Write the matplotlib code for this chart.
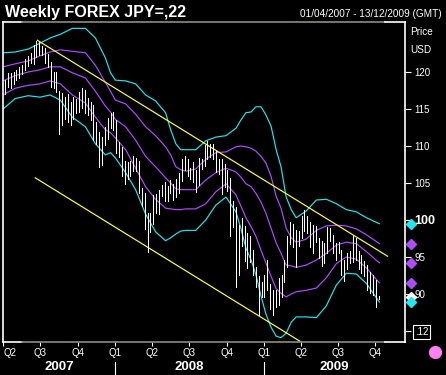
"""
周线 USD/JPY 走势图（布林带 + 趋势线）
"""
import pandas as pd
import matplotlib
matplotlib.use('Agg')
import matplotlib.pyplot as plt
import matplotlib.transforms as mtransforms
from matplotlib.lines import Line2D

plt.rcParams['font.family'] = ['Liberation Sans', 'DejaVu Sans']

# 时间范围
first_week = pd.Timestamp('2007-04-06')   # 第 0 根周线
range_start = pd.Timestamp('2007-04-01')
range_end = pd.Timestamp('2009-12-13')

# 周线最低/最高价
bar_low = [117.0, 118.0, 117.9, 118.4, 118.9, 119.2, 119.7, 120.3, 120.8, 121.2,
           121.1, 122.0, 122.3, 122.3, 121.2, 120.7, 118.0, 117.8, 117.3, 111.6,
           112.8, 113.7, 113.2, 112.8, 113.7, 114.4, 114.6, 115.1, 114.4, 114.2,
           113.5, 110.8, 110.3, 107.2, 107.4, 110.2, 110.9, 112.4, 112.2, 109.0,
           108.5, 105.9, 104.9, 105.6, 106.0, 106.6, 106.6, 103.7, 101.9, 98.8,
           95.7, 98.4, 99.5, 100.9, 100.8, 103.2, 102.6, 102.6, 103.7, 102.7,
           103.1, 103.7, 105.3, 106.8, 106.0, 105.6, 105.2, 103.8, 104.7, 106.9,
           107.3, 108.3, 108.5, 108.2, 106.5, 106.2, 103.5, 104.5, 103.9, 97.8,
           99.0, 90.9, 92.5, 96.5, 94.5, 93.5, 94.3, 92.5, 91.0, 87.2,
           89.6, 89.6, 90.5, 88.0, 87.1, 88.3, 88.5, 89.6, 91.6, 93.6,
           96.8, 96.4, 93.6, 96.5, 97.6, 98.5, 98.3, 96.4, 95.6, 97.0,
           94.9, 93.8, 94.2, 95.5, 97.1, 95.5, 94.6, 95.5, 92.5, 91.8,
           93.4, 94.2, 94.3, 94.6, 93.4, 92.8, 92.4, 90.5, 90.2, 89.8,
           88.2, 89.3]
bar_high = [118.9, 119.9, 119.9, 120.0, 120.3, 120.7, 121.0, 121.7, 122.2, 122.6,
            123.6, 124.2, 124.0, 123.5, 123.2, 122.5, 121.4, 120.0, 120.0, 117.4,
            117.2, 116.6, 117.0, 116.0, 116.6, 116.4, 117.3, 117.8, 117.6, 116.5,
            115.9, 115.5, 113.3, 111.9, 111.2, 112.6, 113.8, 114.5, 114.6, 113.5,
            110.6, 109.9, 108.0, 107.9, 108.0, 108.6, 108.4, 108.0, 104.3, 103.6,
            101.0, 100.9, 103.4, 103.5, 104.0, 104.7, 105.2, 104.6, 105.4, 104.8,
            105.6, 106.4, 108.2, 108.6, 108.2, 107.0, 107.8, 106.8, 108.4, 108.3,
            110.2, 110.7, 110.3, 110.3, 109.3, 108.3, 108.3, 107.6, 106.7, 105.7,
            102.6, 101.7, 99.3, 100.3, 99.2, 98.3, 97.8, 96.0, 93.6, 92.4,
            91.6, 92.5, 94.6, 91.4, 90.6, 90.5, 92.2, 92.6, 94.6, 97.8,
            99.7, 99.4, 98.6, 98.5, 100.6, 101.4, 100.6, 99.7, 99.3, 99.2,
            97.6, 97.1, 96.9, 99.0, 98.9, 98.0, 96.9, 97.0, 96.0, 94.6,
            95.5, 95.8, 97.8, 97.6, 95.8, 95.3, 94.4, 93.9, 93.0, 92.6,
            91.9, 89.7]
last_price = 89.6

# 布林带（按周序号取样）
band_week = [-0.7, 3.5, 8.1, 12.3, 15.8, 19.4, 23.6, 28.2, 31.7, 35.2,
             37.0, 38.7, 42.3, 45.8, 49.3, 52.8, 56.3, 58.1, 59.9, 61.6,
             63.4, 66.9, 70.4, 73.9, 77.5, 81.0, 82.7, 84.5, 86.3, 88.0,
             89.8, 91.5, 93.3, 95.1, 96.8, 98.6, 100.4, 102.1, 105.6, 109.2,
             112.7, 116.2, 119.7, 123.2, 126.8, 131.3]
cyan_upper = [122.6, 122.7, 123.1, 123.9, 124.6, 125.1, 125.9, 125.9, 124.6, 121.9,
              119.9, 118.9, 118.8, 118.4, 116.9, 116.1, 114.5, 112.2, 110.3, 109.5,
              109.5, 109.5, 110.7, 111.2, 111.4, 112.4, 113.5, 114.5, 114.6, 115.3,
              115.3, 114.2, 112.7, 109.5, 107.2, 103.1, 101.4, 100.3, 101.2, 102.7,
              102.8, 102.2, 101.4, 101.1, 100.3, 99.5]
purple_upper = [120.7, 121.1, 121.5, 122.2, 122.7, 123.0, 122.8, 122.6, 120.9, 118.6,
                117.4, 116.2, 115.7, 114.3, 112.6, 111.4, 109.9, 108.8, 107.2, 106.8,
                106.6, 106.9, 108.2, 109.1, 109.2, 109.9, 110.0, 109.9, 109.7, 109.3,
                108.6, 107.7, 105.9, 103.2, 101.6, 98.9, 97.6, 97.0, 97.4, 98.6,
                99.2, 99.3, 99.2, 98.8, 98.0, 96.8]
purple_mid = [118.8, 119.5, 120.0, 120.3, 120.7, 120.7, 119.9, 119.2, 117.4, 115.4,
              114.6, 113.6, 112.6, 110.8, 108.6, 107.2, 105.7, 105.0, 104.2, 104.1,
              104.1, 104.1, 105.4, 106.4, 107.0, 106.5, 105.8, 104.9, 104.5, 103.6,
              102.4, 100.9, 98.9, 96.9, 95.5, 93.9, 93.8, 93.6, 93.9, 94.6,
              95.5, 96.6, 97.0, 96.8, 95.7, 94.2]
purple_lower = [116.9, 117.8, 118.2, 118.4, 118.8, 118.4, 116.9, 115.8, 113.9, 112.2,
                111.8, 111.1, 109.5, 107.0, 104.5, 102.8, 101.6, 101.5, 101.4, 101.4,
                101.5, 101.5, 102.2, 103.8, 104.9, 103.4, 101.9, 100.3, 99.1, 97.8,
                95.9, 94.2, 92.4, 90.7, 90.1, 89.6, 90.0, 90.3, 90.5, 90.8,
                92.2, 94.1, 95.0, 94.7, 93.5, 91.5]
cyan_lower = [115.0, 116.4, 116.8, 116.6, 116.9, 116.2, 113.9, 112.6, 110.3, 108.8,
              109.1, 108.4, 106.4, 104.1, 100.8, 98.4, 97.2, 97.6, 98.1, 98.5,
              98.6, 98.6, 100.0, 102.0, 103.1, 101.1, 98.9, 96.2, 94.6, 92.6,
              89.7, 87.3, 85.5, 84.3, 84.1, 84.7, 86.2, 86.9, 86.9, 86.8,
              88.4, 91.2, 92.8, 92.7, 91.4, 88.9]

# 趋势线端点
trend_upper_week = [11.3, 134.2]
trend_upper_val = [124.3, 95.1]
trend_lower_week = [10.6, 106.0]
trend_lower_val = [105.7, 83.0]

price_ticks = [85, 90, 95, 100, 105, 110, 115, 120]
price_labels = ['.12', '90', '95', '100', '105', '110', '115', '120']

CYAN = '#22e6ee'
PURPLE = '#b04cff'
YELLOW = '#ffff44'
GRAY = '#8c8c7c'


def to_week(d):
    return (pd.Timestamp(d) - first_week).days / 7.0


fig = plt.figure(figsize=(4.46, 3.75), dpi=100, facecolor='black')
ax = fig.add_axes([3 / 446, 33 / 375, 402 / 446, 320 / 375])
ax.set_facecolor('black')
ax.set_xlim(to_week(range_start), to_week(range_end))
ax.set_ylim(83.51, 126.76)
for s in ax.spines.values():
    s.set_visible(False)

# 布林带
for vals, col in [(cyan_upper, CYAN), (purple_upper, PURPLE), (purple_mid, PURPLE),
                  (purple_lower, PURPLE), (cyan_lower, CYAN)]:
    ax.plot(band_week, vals, color=col, lw=0.85)

# 趋势线
ax.plot(trend_upper_week, trend_upper_val, color=YELLOW, lw=0.85)
ax.plot(trend_lower_week, trend_lower_val, color=YELLOW, lw=0.85)

# 周线
weeks = list(range(len(bar_low)))
ax.vlines(weeks, bar_low, bar_high, color='white', lw=0.6, antialiased=False)

# 边框
ax.plot([0, 0], [0, 1], transform=ax.transAxes, color='white', lw=1.2, clip_on=False)
ax.plot([1, 1], [0, 1], transform=ax.transAxes, color='white', lw=1.2, clip_on=False)
for yy in (0, 1):
    ax.plot([0, 0.047], [yy, yy], transform=ax.transAxes, color='white', lw=1.2, clip_on=False)
    ax.plot([0.047, 0.950], [yy, yy], transform=ax.transAxes, color=GRAY, lw=1.2, clip_on=False)
    ax.plot([0.950, 1], [yy, yy], transform=ax.transAxes, color='white', lw=1.2, clip_on=False)

# 右侧价格轴
ax.yaxis.tick_right()
ax.set_yticks(price_ticks)
ax.set_yticklabels(price_labels)
ax.tick_params(axis='y', length=4, color='white', labelcolor='white', labelsize=7, pad=3)
for lab in ax.get_yticklabels():
    if lab.get_text() == '100':
        lab.set_fontweight('bold')
        lab.set_fontsize(9)
    if lab.get_text() == '.12':
        lab.set_bbox(dict(facecolor='black', edgecolor='white', lw=0.8, pad=1.2))

# 右侧最新值标记
ytrans = mtransforms.blended_transform_factory(ax.transAxes, ax.transData)
for val, col in [(cyan_upper[-1], CYAN), (purple_upper[-1], PURPLE), (purple_mid[-1], PURPLE),
                 (purple_lower[-1], PURPLE), (last_price, 'white'), (cyan_lower[-1], CYAN)]:
    ax.plot([1.016], [val], marker='D', ms=5, color=col, mec=col, transform=ytrans, clip_on=False)

# 底部季度与年份
qs = pd.date_range('2007-04-01', '2009-10-01', freq='QS')
q_weeks = [to_week(d) for d in qs]
ax.set_xticks(q_weeks)
ax.tick_params(axis='x', length=3, color='white', labelbottom=False)
xtrans = mtransforms.blended_transform_factory(ax.transData, ax.transAxes)
for i, (d, w) in enumerate(zip(qs, q_weeks)):
    ax.text(w, -0.034, 'Q%d' % d.quarter, transform=xtrans, color='white', fontsize=7,
            ha='left' if i == 0 else 'center', va='center')

year_bounds = [range_start, pd.Timestamp('2008-01-01'), pd.Timestamp('2009-01-01'), range_end]
years = ['2007', '2008', '2009']
for i, yr in enumerate(years):
    mid = (to_week(year_bounds[i]) + to_week(year_bounds[i + 1])) / 2
    ax.text(mid, -0.078, yr, transform=xtrans, color='white', fontsize=9.5,
            fontweight='bold', ha='center', va='center')
for b in year_bounds[1:3]:
    ax.plot([to_week(b)] * 2, [-0.0625, -0.103], transform=xtrans, color='white',
            lw=0.8, clip_on=False)

# 标题与其他文字
fig.text(5 / 446, 1 - 12 / 375, 'Weekly FOREX JPY=,22', color='white', fontsize=11.5,
         fontweight='bold', va='center')
fig.text(442 / 446, 1 - 14 / 375, '01/04/2007 - 13/12/2009 (GMT)', color='white',
         fontsize=7.2, ha='right', va='center')
fig.text(410 / 446, 1 - 32 / 375, 'Price', color='white', fontsize=7.2, va='center')
fig.text(410 / 446, 1 - 50 / 375, 'USD', color='white', fontsize=7.2, va='center')
fig.add_artist(Line2D([435 / 446], [1 - 352 / 375], marker='o', ms=8.5, color='#ff80f0',
                      transform=fig.transFigure))

fig.savefig('out.png', dpi=100, facecolor='black')
plt.close(fig)
